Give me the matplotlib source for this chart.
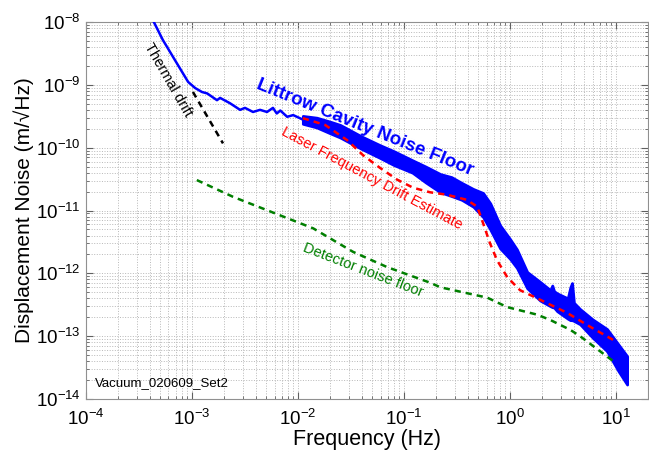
import math
import matplotlib
matplotlib.use("Agg")
import matplotlib.pyplot as plt
from matplotlib.ticker import LogLocator, FuncFormatter, NullFormatter

plt.rcParams['font.family'] = ['Liberation Sans', 'DejaVu Sans']
plt.rcParams['mathtext.fontset'] = 'custom'
plt.rcParams['mathtext.rm'] = 'Liberation Sans'

# Littrow cavity noise floor, low-frequency single trace
blue_f = [4.3e-4, 5.3e-4, 7.2e-4, 9.2e-4, 1.07e-3, 1.24e-3, 1.39e-3, 1.72e-3,
          1.84e-3, 2.28e-3, 2.84e-3, 3.16e-3, 3.76e-3, 4.38e-3, 5.1e-3,
          5.8e-3, 6.3e-3, 6.8e-3, 7.9e-3, 9.0e-3, 1.11e-2]
blue_v = [1.05e-8, 5.2e-9, 2.2e-9, 1.11e-9, 8.9e-10, 7.7e-10, 7.3e-10, 5.7e-10,
          6.2e-10, 5.1e-10, 4.0e-10, 4.3e-10, 3.7e-10, 4.0e-10, 3.7e-10,
          4.3e-10, 3.5e-10, 3.9e-10, 3.1e-10, 3.3e-10, 2.8e-10]

# noisy part of the same trace: upper / lower envelope
band_f = [1.11e-2, 1.5e-2, 2.0e-2, 2.5e-2, 3.0e-2, 4.0e-2, 5.9e-2, 8.0e-2,
          0.12, 0.16, 0.22, 0.28, 0.35, 0.45, 0.556, 0.65, 0.805, 1.0, 1.16,
          1.45, 1.92, 2.4, 2.5, 2.6, 2.78, 3.5, 3.7, 3.84, 4.0, 4.57, 6.0, 8.2,
          10.5, 12.7]
band_hi = [3.2e-10, 3.0e-10, 2.6e-10, 2.3e-10, 1.95e-10, 1.5e-10, 1.1e-10,
           8.8e-11, 6.3e-11, 5.0e-11, 3.8e-11, 3.4e-11, 2.75e-11, 2.2e-11,
           1.9e-11, 1.3e-11, 5.8e-12, 3.5e-12, 2.4e-12, 1.05e-12, 7.3e-13,
           5.4e-13, 6.4e-13, 5.2e-13, 4.8e-13, 4.0e-13, 6.0e-13, 7.0e-13,
           3.4e-13, 2.7e-13, 1.85e-13, 1.3e-13, 7.4e-14, 4.8e-14]
band_lo = [2.4e-10, 2.1e-10, 1.7e-10, 1.45e-10, 1.23e-10, 9.5e-11, 6.9e-11,
           5.3e-11, 4.0e-11, 2.8e-11, 1.95e-11, 1.7e-11, 1.48e-11, 1.15e-11,
           7.9e-12, 5.0e-12, 2.5e-12, 1.7e-12, 1.22e-12, 5.8e-13, 3.7e-13,
           3.0e-13, 2.9e-13, 2.85e-13, 2.5e-13, 1.9e-13, 1.8e-13, 1.8e-13,
           1.75e-13, 1.55e-13, 9.5e-14, 5.8e-14, 2.8e-14, 1.7e-14]

# laser frequency drift estimate
red_f = [1.11e-2, 1.8e-2, 2.9e-2, 4.1e-2, 5.9e-2, 8.6e-2, 0.122, 0.176, 0.255,
         0.39, 0.49, 0.556, 0.647, 0.753, 0.94, 1.24, 1.92, 3.45, 5.7, 9.4]
red_v = [2.95e-10, 2.3e-10, 1.32e-10, 7.6e-11, 4.8e-11, 3.1e-11, 2.3e-11,
         1.95e-11, 1.78e-11, 1.48e-11, 1.15e-11, 6.3e-12, 3.0e-12, 1.62e-12,
         8.7e-13, 5.4e-13, 3.8e-13, 2.35e-13, 1.41e-13, 8.7e-14]

# detector noise floor
green_f = [1.11e-3, 2.44e-3, 1.39e-2, 3.3e-2, 6.9e-2, 0.176, 0.22, 0.61, 0.94,
           1.8, 2.38, 3.7, 4.57, 9.4]
green_v = [3.05e-11, 1.65e-11, 5.2e-12, 2.2e-12, 1.26e-12, 7.1e-13, 6.0e-13,
           4.1e-13, 2.9e-13, 2.2e-13, 1.82e-13, 1.26e-13, 1.0e-13, 4.0e-14]

# thermal drift
black_f = [1.02e-3, 1.96e-3]
black_v = [7.7e-10, 1.17e-10]


def main():
    fig = plt.figure(figsize=(6.49, 4.5), dpi=100)
    ax = fig.add_axes([0.1325, 0.1133, 0.866, 0.8378])

    ax.plot(blue_f, blue_v, color='#0000ff', lw=1.8, zorder=3)
    ax.fill_between(band_f, band_lo, band_hi, color='#0000ff', lw=2.0,
                    edgecolor='#0000ff', zorder=3)
    ax.plot(red_f, red_v, '--', color='#ff0000', lw=1.8, dashes=(2.5, 2), zorder=4)
    ax.plot(green_f, green_v, '--', color='#007f00', lw=1.8, dashes=(2.5, 2), zorder=4)
    ax.plot(black_f, black_v, '--', color='black', lw=1.8, dashes=(2.5, 2), zorder=4)

    ax.set_xscale('log')
    ax.set_yscale('log')
    ax.set_xlim(1e-4, 20)
    ax.set_ylim(1e-14, 1e-8)

    ax.xaxis.set_major_locator(LogLocator(base=10, numticks=10))
    ax.yaxis.set_major_locator(LogLocator(base=10, numticks=10))
    ax.xaxis.set_minor_locator(LogLocator(base=10, subs=range(2, 10), numticks=20))
    ax.yaxis.set_minor_locator(LogLocator(base=10, subs=range(2, 10), numticks=20))
    fmt = FuncFormatter(lambda v, p: r'$\mathregular{10^{%d}}$' % round(math.log10(v)))
    ax.xaxis.set_major_formatter(fmt)
    ax.yaxis.set_major_formatter(fmt)
    ax.xaxis.set_minor_formatter(NullFormatter())
    ax.yaxis.set_minor_formatter(NullFormatter())

    ax.grid(True, which='both', linestyle=':', color='#b8b8b8', lw=0.7)
    ax.set_axisbelow(True)
    ax.tick_params(which='both', direction='in', top=True, right=True,
                   colors='#606060', labelcolor='black', labelsize=13.5)
    ax.tick_params(which='major', length=5)
    ax.tick_params(which='minor', length=2.5)
    ax.tick_params(axis='x', pad=7)
    ax.tick_params(axis='y', pad=4)
    for s in ax.spines.values():
        s.set_color('#909090')

    ax.set_xlabel('Frequency (Hz)', fontsize=15.5, labelpad=0)
    ax.set_ylabel('Displacement Noise (m/\u221aHz)', fontsize=15, labelpad=1)

    ax.text(5.9e-4, 1.2e-9, 'Thermal drift', rotation=-60, fontsize=10.5,
            ha='center', va='center', rotation_mode='anchor')
    ax.text(4.3e-2, 2.1e-10, 'Littrow Cavity Noise Floor', rotation=-22,
            fontsize=13.5, fontweight='bold', color='#0000ff',
            ha='center', va='center', rotation_mode='anchor')
    ax.text(5.0e-2, 3.3e-11, 'Laser Frequency Drift Estimate', rotation=-28,
            fontsize=10.5, color='#ff0000', ha='center', va='center',
            rotation_mode='anchor')
    ax.text(4.1e-2, 1.12e-12, 'Detector noise floor', rotation=-21,
            fontsize=10.5, color='#007f00', ha='center', va='center',
            rotation_mode='anchor')
    ax.text(1.22e-4, 1.8e-14, 'Vacuum_020609_Set2', fontsize=9.5,
            ha='left', va='center')

    fig.savefig('out.png', dpi=100)


if __name__ == "__main__":
    main()
